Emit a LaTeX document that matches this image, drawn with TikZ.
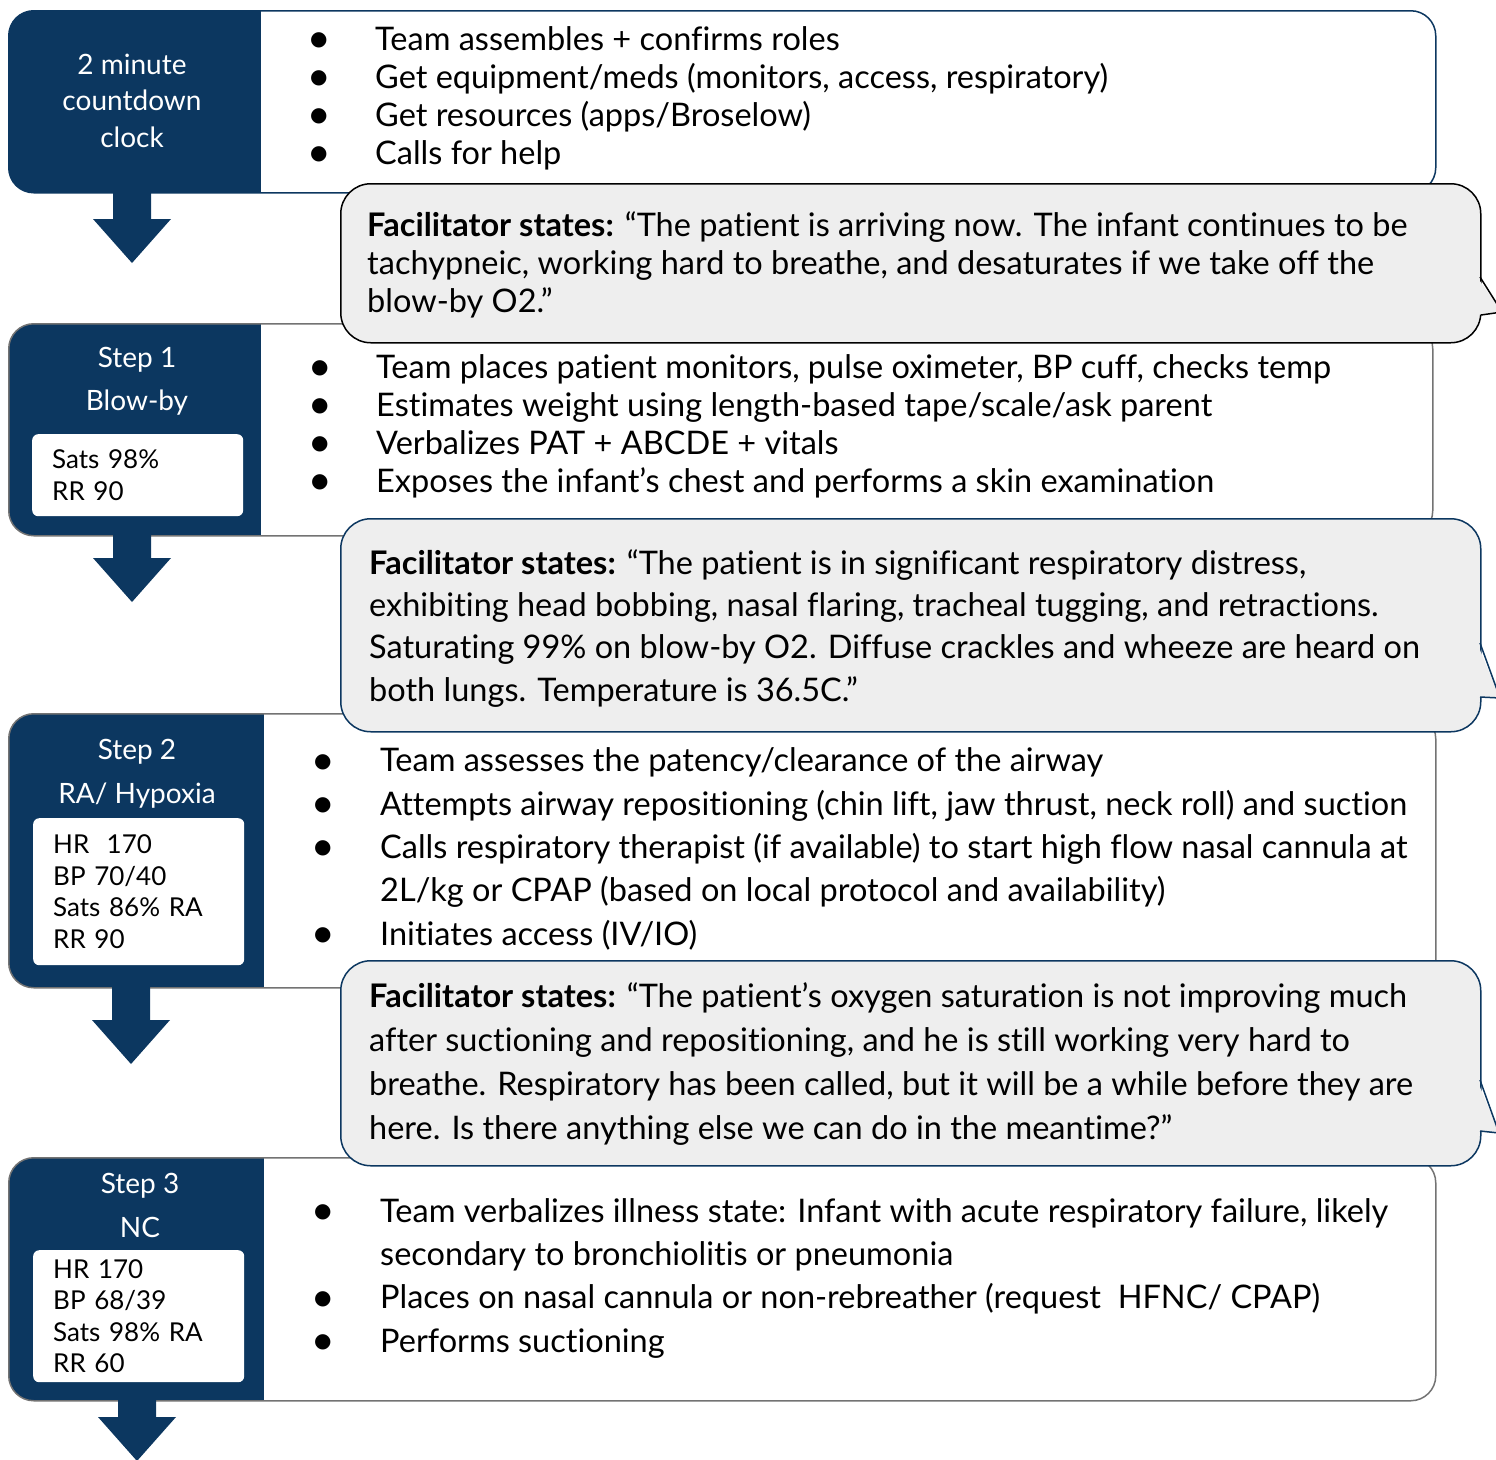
\documentclass[tikz,border=0pt]{standalone}
\usepackage{fontspec}
\setmainfont[Ligatures=NoCommon]{Lato}
\newfontfamily\symfont{DejaVu Sans}
\usepackage{xcolor}
\definecolor{stepnavy}{RGB}{12,55,96}
\definecolor{bubblegray}{RGB}{238,238,238}
\definecolor{edgegray}{RGB}{115,115,115}

% bullet with a fixed gap before the text
\newcommand{\blt}[1]{\makebox[#1][l]{\raisebox{4.5pt}{\symfont\fontsize{20}{20}\selectfont ●}}}

\tikzset{
  rowbox/.style={draw=edgegray, line width=1.5pt, fill=white, rounded corners=25,
    anchor=north west, inner sep=0pt,
    path picture={\fill[stepnavy, sharp corners] (path picture bounding box.north west)
      rectangle ([xshift=#1]path picture bounding box.south west);}},
  tabtext/.style={text=white, align=center, anchor=base, inner sep=0pt},
  vitals/.style={fill=white, rounded corners=6, anchor=north west, inner xsep=20pt,
    inner ysep=0pt, text width=171pt, align=left, font=\fontsize{26}{31.5}\selectfont},
  listtext/.style={anchor=base west, align=left, inner sep=0pt},
  bubblebox/.style={fill=bubblegray, line width=1.5pt, rounded corners=30,
    anchor=north west, inner sep=0pt},
  pics/downarrow/.style={code={
    \fill[stepnavy] (-19,0) -- (19,0) -- (19,#1) -- (39,#1) -- (0,#1+44)
      -- (-39,#1) -- (-19,#1) -- cycle;}}
}

\begin{document}
\begin{tikzpicture}[x=1pt, y=-1pt]
\useasboundingbox (0,0) rectangle (1496,1459);
\clip (0,0) rectangle (1496,1459);

% rows
\node[rowbox=252, draw=stepnavy, minimum width=1427, minimum height=182] (row0) at (8,10) {};
\node[rowbox=252, minimum width=1424, minimum height=212] (row1) at (8,323) {};
\node[rowbox=255, minimum width=1427, minimum height=274] (row2) at (8,713) {};
\node[rowbox=255, minimum width=1427, minimum height=243] (row3) at (8,1157) {};

% arrows under the tabs
\pic at (132,192) {downarrow=27};
\pic at (132,535) {downarrow=23};
\pic at (131,987) {downarrow=33};
\pic at (137,1400) {downarrow=17};

% tab titles (anchored on the last line)
\node[tabtext, font=\fontsize{28}{36.5}\selectfont] (tab0) at (132,147) {2 minute\\countdown\\clock};
\node[tabtext, font=\fontsize{28}{43}\selectfont] (tab1) at (137,410) {Step 1\\Blow-by};
\node[tabtext, font=\fontsize{28}{44}\selectfont] (tab2) at (137,803) {Step 2\\RA/ Hypoxia};
\node[tabtext, font=\fontsize{28}{44}\selectfont] (tab3) at (140,1237) {Step 3\\NC};

% vitals
\node[vitals, minimum height=82] (vit1) at (32,434) {Sats 98\%\\RR 90};
\node[vitals, minimum height=147] (vit2) at (33,818) {HR\ \ 170\\BP 70/40\\Sats 86\% RA\\RR 90};
\node[vitals, minimum height=132] (vit3) at (33,1250) {HR 170\\BP 68/39\\Sats 98\% RA\\RR 60};

% team actions
\node[listtext, font=\fontsize{32.5}{38}\selectfont] (act0) at (310,164) {%
  \blt{65pt}Team assembles + confirms roles\\
  \blt{65pt}Get equipment/meds (monitors, access, respiratory)\\
  \blt{65pt}Get resources (apps/Broselow)\\
  \blt{65pt}Calls for help};
\node[listtext, font=\fontsize{32.5}{38}\selectfont] (act1) at (311,492) {%
  \blt{65pt}Team places patient monitors, pulse oximeter, BP cuff, checks temp\\
  \blt{65pt}Estimates weight using length-based tape/scale/ask parent\\
  \blt{65pt}Verbalizes PAT + ABCDE + vitals\\
  \blt{65pt}Exposes the infant’s chest and performs a skin examination};
\node[listtext, font=\fontsize{32.5}{43.3}\selectfont] (act2) at (314,945) {%
  \blt{66pt}Team assesses the patency/clearance of the airway\\
  \blt{66pt}Attempts airway repositioning (chin lift, jaw thrust, neck roll) and suction\\
  \blt{66pt}Calls respiratory therapist (if available) to start high flow nasal cannula at\\
  \hspace*{66pt}2L/kg or CPAP (based on local protocol and availability)\\
  \blt{66pt}Initiates access (IV/IO)};
\node[listtext, font=\fontsize{32.5}{43.3}\selectfont] (act3) at (314,1352) {%
  \blt{66pt}Team verbalizes illness state: Infant with acute respiratory failure, likely\\
  \hspace*{66pt}secondary to bronchiolitis or pneumonia\\
  \blt{66pt}Places on nasal cannula or non-rebreather (request\ \ HFNC/ CPAP)\\
  \blt{66pt}Performs suctioning};

% facilitator bubbles
\node[bubblebox, draw=black, minimum width=1140, minimum height=159] (fac1) at (340,183) {};
\fill[bubblegray] (1477,277) -- (1502,312) -- (1477,315) -- cycle;
\draw[line width=1.5pt] (1480,277) -- (1502,312) -- (1481,315);
\node[listtext, font=\fontsize{32.5}{38}\selectfont] (say1) at (367,312) {%
  \textbf{Facilitator states:} “The patient is arriving now. The infant continues to be\\
  tachypneic, working hard to breathe, and desaturates if we take off the\\
  blow-by O2.”};

\node[bubblebox, draw=stepnavy, minimum width=1140, minimum height=213] (fac2) at (340,518) {};
\fill[bubblegray] (1477,643) -- (1500,698) -- (1477,697) -- cycle;
\draw[stepnavy, line width=1.5pt] (1480,643) -- (1500,698) -- (1480,697);
\node[listtext, font=\fontsize{32.5}{42.3}\selectfont] (say2) at (369,701) {%
  \textbf{Facilitator states:} “The patient is in significant respiratory distress,\\
  exhibiting head bobbing, nasal flaring, tracheal tugging, and retractions.\\
  Saturating 99\% on blow-by O2. Diffuse crackles and wheeze are heard on\\
  both lungs. Temperature is 36.5C.”};

\node[bubblebox, draw=stepnavy, minimum width=1140, minimum height=205] (fac3) at (340,960) {};
\fill[bubblegray] (1477,1080) -- (1499,1133) -- (1477,1131) -- cycle;
\draw[stepnavy, line width=1.5pt] (1480,1080) -- (1499,1133) -- (1480,1131);
\node[listtext, font=\fontsize{32.5}{44}\selectfont] (say3) at (369,1139) {%
  \textbf{Facilitator states:} “The patient’s oxygen saturation is not improving much\\
  after suctioning and repositioning, and he is still working very hard to\\
  breathe. Respiratory has been called, but it will be a while before they are\\
  here. Is there anything else we can do in the meantime?”};
\end{tikzpicture}
\end{document}
